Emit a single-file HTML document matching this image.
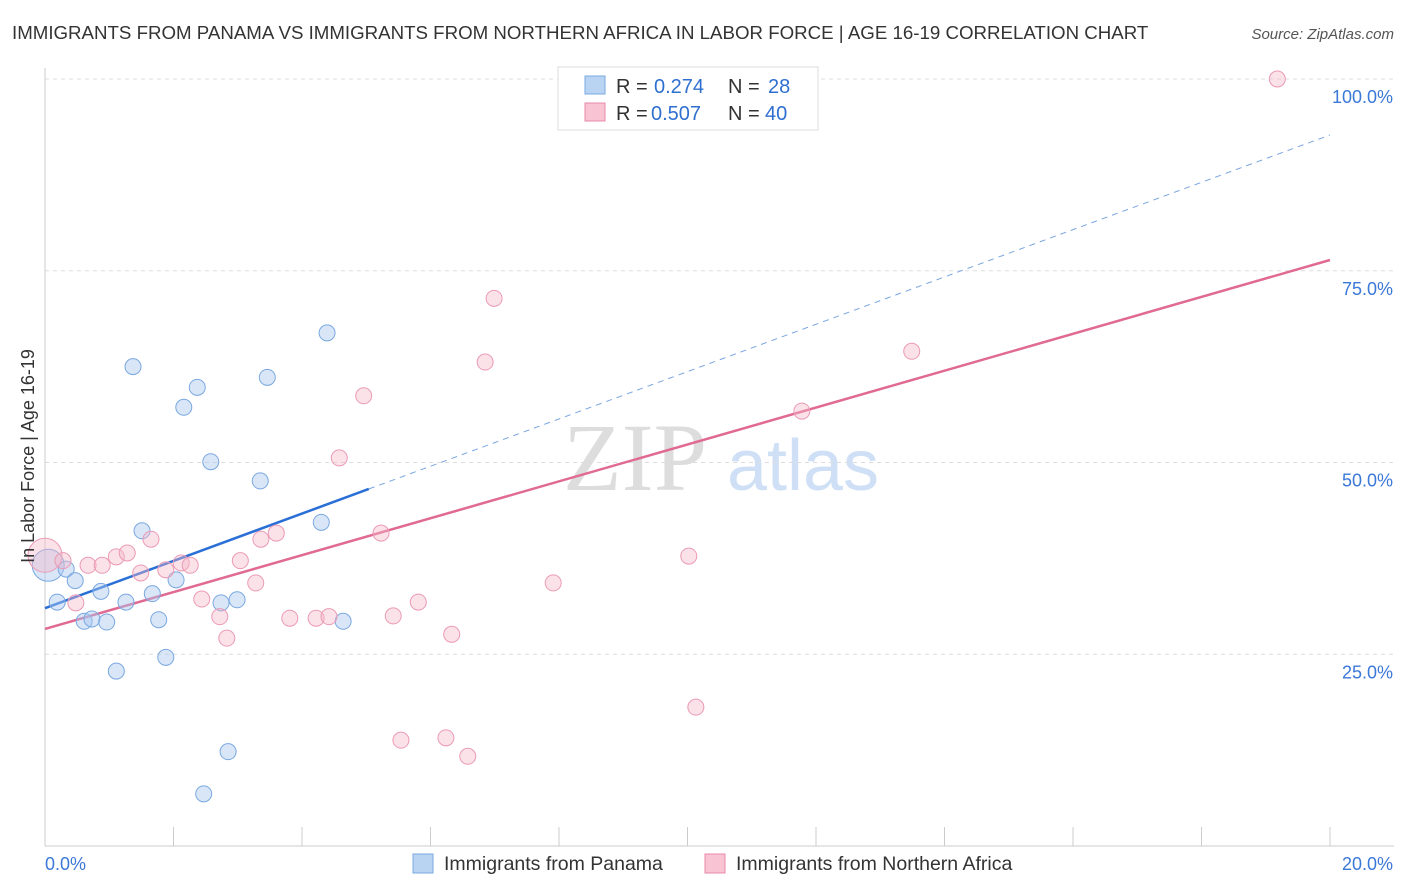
<!DOCTYPE html>
<html><head><meta charset="utf-8"><style>
body{margin:0;background:#fff;font-family:"Liberation Sans",sans-serif;}
svg{display:block}
</style></head><body>
<svg id="chart" width="1406" height="892" xmlns="http://www.w3.org/2000/svg">
<text x="12" y="39" font-size="18.7" fill="#333">IMMIGRANTS FROM PANAMA VS IMMIGRANTS FROM NORTHERN AFRICA IN LABOR FORCE | AGE 16-19 CORRELATION CHART</text>
<text x="1394" y="39" font-size="15" fill="#555" text-anchor="end" font-style="italic">Source: ZipAtlas.com</text>
<g>
<text x="635" y="490" font-size="96" fill="#ddd" text-anchor="middle" font-family="Liberation Serif,serif">ZIP</text>
<text x="803" y="490" font-size="72" fill="#cfe0f6" text-anchor="middle">atlas</text>
</g>
<g id="grid"></g>
<g id="axes"></g>
<g id="lines"></g>
<g id="pts"></g>
<text transform="translate(34,456) rotate(-90)" font-size="18" fill="#333" text-anchor="middle">In Labor Force | Age 16-19</text>
<g>
<rect x="558" y="67" width="260" height="63" fill="#fff" stroke="#ddd"/>
<rect x="585" y="76" width="20" height="18" fill="#b9d3f3" stroke="#7aaae0"/>
<rect x="585" y="103" width="20" height="18" fill="#f8c4d3" stroke="#e88aa8"/>
<text x="616" y="93" font-size="20" fill="#333">R = </text>
<text x="654" y="93" font-size="20" fill="#2f6fd0">0.274</text>
<text x="728" y="93" font-size="20" fill="#333">N = </text>
<text x="768" y="93" font-size="20" fill="#2f6fd0">28</text>
<text x="616" y="120" font-size="20" fill="#333">R = </text>
<text x="651" y="120" font-size="20" fill="#2f6fd0">0.507</text>
<text x="728" y="120" font-size="20" fill="#333">N = </text>
<text x="765" y="120" font-size="20" fill="#2f6fd0">40</text>
</g>
<g>
<rect x="413" y="854" width="20" height="19" fill="#b9d3f3" stroke="#7aaae0"/>
<text x="444" y="870" font-size="19.5" fill="#333">Immigrants from Panama</text>
<rect x="705" y="854" width="20" height="19" fill="#f8c4d3" stroke="#e88aa8"/>
<text x="736" y="870" font-size="19.5" fill="#333">Immigrants from Northern Africa</text>
</g>
</svg>
<script>
const blueX=[0.05,0.19,0.33,0.47,0.61,0.73,0.87,0.96,1.11,1.26,1.37,1.51,1.67,1.77,1.88,2.04,2.16,2.37,2.47,2.58,2.74,2.85,2.99,3.35,3.46,4.30,4.39,4.64];
const blueY=[36.6,31.8,36.1,34.6,29.3,29.6,33.2,29.2,22.8,31.8,62.5,41.1,32.9,29.5,24.6,34.7,57.2,59.8,6.8,50.1,31.7,12.3,32.1,47.6,61.1,42.2,66.9,29.3];
const pinkX=[0,0.28,0.48,0.67,0.89,1.11,1.28,1.49,1.65,1.88,2.12,2.26,2.44,2.72,2.83,3.04,3.28,3.36,3.60,3.81,4.22,4.42,4.58,4.96,5.23,5.42,5.54,5.81,6.24,6.33,6.58,6.85,6.99,7.91,8.44,10.02,10.13,11.78,13.49,19.18];
const pinkY=[37.9,37.2,31.7,36.6,36.6,37.7,38.2,35.6,40.0,36.0,36.9,36.6,32.2,29.9,27.1,37.2,34.3,40.0,40.8,29.7,29.7,29.9,50.6,58.7,40.8,30.0,13.8,31.8,14.1,27.6,11.7,63.1,71.4,34.3,99.9,37.8,18.1,56.7,64.5,100];
const yTicks=[25,50,75,100];
const yTickLabels=["25.0%","50.0%","75.0%","100.0%"];
const blueTrend=[31.0,3.085];
const pinkTrend=[28.3,2.405];
const NS="http://www.w3.org/2000/svg";
const X=v=>45+v/20*1285, Y=v=>846-v/100*767;
function mk(t,a,p){const e=document.createElementNS(NS,t);for(const k in a)e.setAttribute(k,a[k]);document.getElementById(p).appendChild(e);return e;}
yTicks.forEach((t,i)=>{
 const l=mk('line',{x1:45,x2:1394,y1:Y(t),y2:Y(t),stroke:'#ddd','stroke-dasharray':'4,4'},'grid');
 
 
 const tx=mk('text',{x:1393,y:Y(t)+24,'font-size':18,fill:'#3b78d8','text-anchor':'end'},'axes');
 tx.textContent=yTickLabels[i];
 
 
});
const ax=mk('line',{x1:45,x2:1394,y1:846,y2:846,stroke:'#ccc'},'axes');


const ay=mk('line',{x1:45,x2:45,y1:68,y2:846,stroke:'#ccc'},'axes');


for(let i=0;i<=10;i++){const t=mk('line',{x1:X(i*2),x2:X(i*2),y1:827,y2:846,stroke:'#ccc'},'axes');
 
 }
[["0.0%",45,'start'],["20.0%",1393,'end']].forEach(d=>{const t=mk('text',{x:d[1],y:870,'font-size':18,fill:'#3b78d8','text-anchor':d[2]},'axes');t.textContent=d[0];
 
 });
const bmax=Math.max(...blueX);
let l1=mk('line',{x1:X(0),y1:Y(blueTrend[0]),x2:X(bmax+0.4),y2:Y(blueTrend[0]+blueTrend[1]*(bmax+0.4)),stroke:'#2a6fd6','stroke-width':2.5},'lines');


let l2=mk('line',{x1:X(bmax+0.4),y1:Y(blueTrend[0]+blueTrend[1]*(bmax+0.4)),x2:X(20),y2:Y(blueTrend[0]+blueTrend[1]*20),stroke:'#7aa5e0','stroke-width':1,'stroke-dasharray':'6,5'},'lines');


let l3=mk('line',{x1:X(0),y1:Y(pinkTrend[0]),x2:X(20),y2:Y(pinkTrend[0]+pinkTrend[1]*20),stroke:'#e06a93','stroke-width':2.5},'lines');


blueX.forEach((x,i)=>{const c=mk('circle',{cx:X(x),cy:Y(blueY[i]),r:i==0?16:8,fill:'rgba(169,200,240,0.45)',stroke:'#7aa8e0','stroke-width':1},'pts');
 
 });
pinkX.forEach((x,i)=>{const c=mk('circle',{cx:X(x),cy:Y(pinkY[i]),r:i==0?17:8,fill:'rgba(244,182,200,0.4)',stroke:'#eb9ab5','stroke-width':1},'pts');
 
 });
</script>
</body></html>
